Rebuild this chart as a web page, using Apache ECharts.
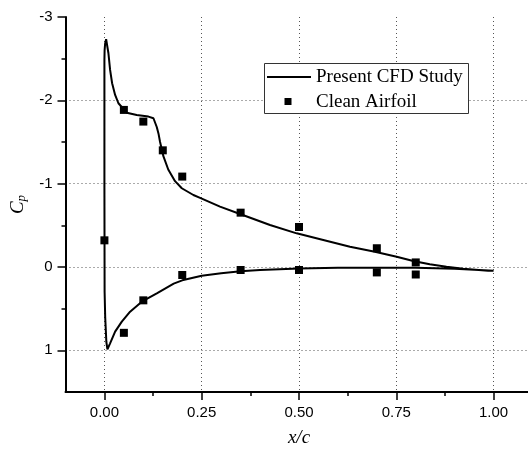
<!DOCTYPE html>
<html><head><meta charset="utf-8">
<script src="https://cdn.jsdelivr.net/npm/echarts@6/dist/echarts.min.js"></script>
<style>html,body{margin:0;padding:0;background:#fff}#c{width:528px;height:450px}</style>
</head><body><div id="c"></div>
<script>
// ---- data ----
const xTicks = [0, 0.25, 0.5, 0.75, 1.0];
const xMinorTicks = [0.125, 0.375, 0.625, 0.875];
const yTicks = [-3, -2, -1, 0, 1];
const yMinorTicks = [-2.5, -1.5, -0.5, 0.5];
const yGridLines = [-2, -1, 0, 1];
const legendNames = ['Present CFD Study', 'Clean Airfoil'];

// CFD curve: lower surface from trailing edge to leading edge, then upper surface back to trailing edge
const cfdX = [1.0, 0.95, 0.9, 0.85, 0.8, 0.7, 0.6, 0.5, 0.4, 0.35, 0.3, 0.25, 0.2, 0.178, 0.1346, 0.096, 0.066, 0.0447, 0.0275, 0.0146, 0.0077,
  0.005, 0.002, 0.0005, 0.0, 0.0, 0.0, 0.0005, 0.0018, 0.0044, 0.0103, 0.0146, 0.0198, 0.0275, 0.036, 0.0575, 0.083, 0.113, 0.126,
  0.1345, 0.139, 0.143, 0.1515, 0.164, 0.1815, 0.1988, 0.2286, 0.2458, 0.297, 0.3485, 0.4255, 0.494, 0.5624, 0.631, 0.695, 0.751,
  0.7935, 0.836, 0.879, 0.922, 0.986, 1.0];
const cfdCp = [0.045, 0.032, 0.022, 0.014, 0.01, 0.008, 0.01, 0.018, 0.035, 0.05, 0.075, 0.105, 0.16, 0.2, 0.316, 0.416, 0.536, 0.656, 0.776, 0.916, 0.988,
  0.9, 0.6, 0.3, -1.0, -2.2, -2.485, -2.6, -2.68, -2.733, -2.565, -2.365, -2.205, -2.065, -1.965, -1.852, -1.825, -1.805, -1.785,
  -1.68, -1.6, -1.5, -1.33, -1.17, -1.03, -0.945, -0.864, -0.83, -0.724, -0.636, -0.504, -0.404, -0.324, -0.244, -0.184, -0.124,
  -0.072, -0.032, -0.004, 0.02, 0.044, 0.045];

// Experimental points (Clean Airfoil)
const expX = [0.0, 0.05, 0.1, 0.15, 0.2, 0.35, 0.5, 0.7, 0.8, 0.05, 0.1, 0.2, 0.35, 0.5, 0.7, 0.8];
const expCp = [-0.32, -1.885, -1.745, -1.4, -1.085, -0.652, -0.48, -0.225, -0.055, 0.79, 0.40, 0.096, 0.036, 0.036, 0.065, 0.09];

// ---- chart ----
const chart = echarts.init(document.getElementById('c'), null, {renderer: 'canvas'});
const sans = 'Liberation Sans, Arial, sans-serif';
const serif = 'Liberation Serif, Times New Roman, serif';
const gridDash = {type: [1, 3], color: '#555', width: 1};

const option = {
  backgroundColor: '#fff',
  animation: false,
  grid: {left: 65.5, top: 17, width: 467, height: 375, containLabel: false, outerBoundsMode: 'none'},
  xAxis: [
    {
      type: 'value', min: -0.1, max: 1.1, position: 'bottom',
      name: 'x/c', nameLocation: 'middle', nameGap: 36,
      nameTextStyle: {fontFamily: serif, fontStyle: 'italic', fontSize: 19, color: '#000'},
      axisLine: {onZero: false, lineStyle: {color: '#000', width: 2}},
      axisTick: {customValues: xTicks, length: 8, lineStyle: {color: '#000', width: 1.5}},
      axisLabel: {customValues: xTicks, formatter: v => v.toFixed(2), margin: 13, fontSize: 15, color: '#000', fontFamily: sans},
      splitLine: {show: true, lineStyle: gridDash}
    },
    {
      type: 'value', min: -0.1, max: 1.1, position: 'bottom',
      axisLine: {show: false, onZero: false},
      axisTick: {customValues: xMinorTicks, length: 4, lineStyle: {color: '#000', width: 1.5}},
      axisLabel: {show: false},
      splitLine: {show: false}
    }
  ],
  yAxis: [
    {
      type: 'value', min: -3, max: 1.5, inverse: true, position: 'left',
      name: '{i|C}{s|p}', nameLocation: 'middle', nameGap: 26, nameRotate: 90,
      nameTextStyle: {
        color: '#000',
        rich: {
          i: {fontFamily: serif, fontStyle: 'italic', fontSize: 19, color: '#000'},
          s: {fontFamily: serif, fontStyle: 'italic', fontSize: 13, color: '#000', padding: [8, 0, 0, 0]}
        }
      },
      axisLine: {onZero: false, lineStyle: {color: '#000', width: 2}},
      axisTick: {customValues: yTicks, length: 8, lineStyle: {color: '#000', width: 1.5}},
      axisLabel: {customValues: yTicks, margin: 13, fontSize: 15, color: '#000', fontFamily: sans},
      splitLine: {show: false}
    },
    {
      type: 'value', min: -3, max: 1.5, inverse: true, position: 'left',
      axisLine: {show: false, onZero: false},
      axisTick: {show: false, customValues: yGridLines},
      axisLabel: {show: false},
      splitLine: {show: true, lineStyle: gridDash}
    },
    {
      type: 'value', min: -3, max: 1.5, inverse: true, position: 'left',
      axisLine: {show: false, onZero: false},
      axisTick: {customValues: yMinorTicks, length: 4, lineStyle: {color: '#000', width: 1.5}},
      axisLabel: {show: false},
      splitLine: {show: false}
    }
  ],
  series: [
    {
      name: legendNames[0], type: 'line', xAxisIndex: 0, yAxisIndex: 0,
      data: cfdX.map((x, i) => [x, cfdCp[i]]),
      showSymbol: false, symbol: 'none', smooth: false,
      lineStyle: {color: '#000', width: 2}, z: 3
    },
    {
      name: legendNames[1], type: 'scatter', xAxisIndex: 0, yAxisIndex: 0,
      data: expX.map((x, i) => [x, expCp[i]]),
      symbol: 'rect', symbolSize: 8,
      itemStyle: {color: '#000', opacity: 1}, z: 4
    }
  ],
  graphic: [
    {type: 'rect', z: 100, shape: {x: 264.5, y: 63.5, width: 204, height: 50}, style: {fill: '#fff', stroke: '#333', lineWidth: 1}},
    {type: 'line', z: 101, shape: {x1: 267, y1: 77, x2: 311, y2: 77}, style: {stroke: '#000', lineWidth: 2}},
    {type: 'rect', z: 101, shape: {x: 284.5, y: 98, width: 7, height: 7}, style: {fill: '#000'}},
    {type: 'text', z: 101, x: 316, y: 77, style: {text: legendNames[0], font: '19px ' + serif, fill: '#000', verticalAlign: 'middle'}},
    {type: 'text', z: 101, x: 316, y: 102, style: {text: legendNames[1], font: '19px ' + serif, fill: '#000', verticalAlign: 'middle'}}
  ]
};
chart.setOption(option);
</script>
</body></html>
